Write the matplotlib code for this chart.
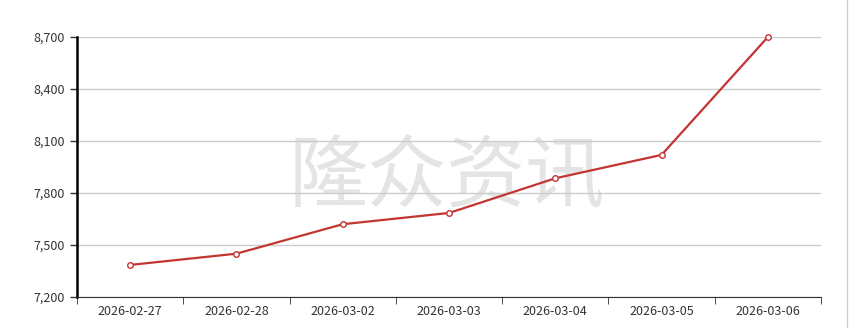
import numpy as np
import matplotlib.pyplot as plt
from matplotlib.ticker import FuncFormatter, FixedLocator

plt.rcParams['font.family'] = ['Noto Sans CJK SC', 'DejaVu Sans']

# price series
dates = ['2026-02-27', '2026-02-28', '2026-03-02', '2026-03-03',
         '2026-03-04', '2026-03-05', '2026-03-06']
prices = [7385, 7450, 7620, 7685, 7885, 8020, 8700]
y_ticks = [7200, 7500, 7800, 8100, 8400, 8700]

fig = plt.figure(figsize=(8.49, 3.28), dpi=100)
ax = fig.add_axes([0.0907, 0.0945, 0.8763, 0.7925])

x = np.arange(len(dates))
ax.plot(x, prices, color='#c23531', lw=1.6, marker='o', ms=4,
        mfc='white', mec='#c23531', mew=1, zorder=3, clip_on=False)

# watermark
ax.text(0.497, 0.455, '隆众资讯', transform=ax.transAxes, fontsize=57,
        color='#e4e4e4', ha='center', va='center', zorder=0,
        fontweight='medium')

ax.set_xlim(-0.5, len(dates) - 0.5)
ax.set_ylim(7200, 8700)
ax.set_yticks(y_ticks)
ax.yaxis.set_major_formatter(FuncFormatter(lambda v, p: f'{int(v):,}'))
ax.set_xticks(x)
ax.set_xticklabels(dates)
ax.xaxis.set_minor_locator(FixedLocator(np.arange(-0.5, len(dates), 1)))
ax.tick_params(axis='x', which='major', length=0, pad=6, labelsize=9, colors='#333333')
ax.tick_params(axis='x', which='minor', length=5, color='#333333')
ax.tick_params(axis='y', length=5, labelsize=9, colors='#333333', width=1)
ax.grid(axis='y', color='#cccccc', lw=1)
ax.set_axisbelow(True)

for s in ['top', 'right']:
    ax.spines[s].set_visible(False)
ax.spines['left'].set_color('black')
ax.spines['left'].set_linewidth(1.8)
ax.spines['bottom'].set_color('#333333')

# right page border
fig.add_artist(plt.Line2D([0.9976, 0.9976], [0, 1], color='#d0d0d0', lw=1))

fig.savefig('out.png', dpi=100)
